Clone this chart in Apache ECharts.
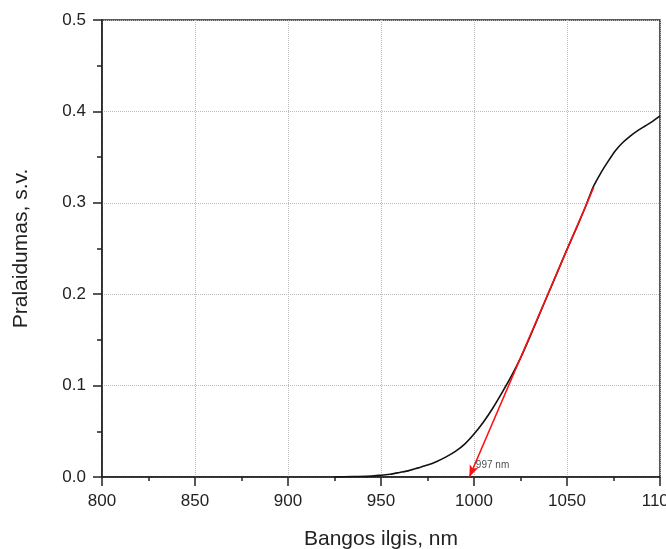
<!DOCTYPE html>
<html>
<head>
<meta charset="utf-8">
<script src="https://cdn.jsdelivr.net/npm/echarts@6/dist/echarts.min.js"></script>
<style>html,body{margin:0;padding:0;background:#fff}#c{width:666px;height:549px}</style>
</head>
<body>
<div id="c"></div>
<script>
const wavelength = [925, 935, 945, 950, 955, 960, 965, 970, 975, 980, 985, 990, 995, 1000, 1005, 1010, 1015, 1020, 1025, 1030, 1035, 1040, 1045, 1050, 1055, 1060, 1064, 1068, 1072, 1076, 1080, 1084, 1088, 1092, 1096, 1100];
const transmission = [0, 0.0005, 0.001, 0.002, 0.003, 0.005, 0.007, 0.010, 0.013, 0.017, 0.022, 0.028, 0.036, 0.047, 0.060, 0.075, 0.092, 0.110, 0.130, 0.153, 0.177, 0.201, 0.225, 0.249, 0.272, 0.296, 0.317, 0.332, 0.345, 0.357, 0.366, 0.373, 0.379, 0.384, 0.389, 0.395];
const tangentStart = [1064.4, 0.317];
const tangentEnd = [997.5, 0];
const edgeLabel = '997 nm';
const edgeLabelAt = [1001, 0.0128];
const xName = 'Bangos ilgis, nm';
const yName = 'Pralaidumas, s.v.';

const font = 'Liberation Sans, Arial, sans-serif';
const chart = echarts.init(document.getElementById('c'), null, {renderer: 'canvas'});
chart.setOption({
  animation: false,
  grid: {left: 102, right: 6, top: 20, bottom: 72, outerBoundsMode: 'none', containLabel: false, show: true, borderColor: '#222', borderWidth: 1.5, backgroundColor: 'transparent'},
  xAxis: {
    type: 'value', min: 800, max: 1100, interval: 50,
    name: xName, nameLocation: 'middle', nameGap: 52,
    nameTextStyle: {fontFamily: font, fontSize: 21, color: '#222'},
    axisLine: {show: true, onZero: false, lineStyle: {color: '#222', width: 1.5}},
    axisTick: {show: true, length: 9, lineStyle: {color: '#222', width: 1.5}},
    minorTick: {show: true, splitNumber: 2, length: 4, lineStyle: {color: '#222', width: 1.5}},
    axisLabel: {fontFamily: font, fontSize: 17, color: '#222', margin: 16, showMaxLabel: true, showMinLabel: true, hideOverlap: false, formatter: v => String(v)},
    splitLine: {show: true, lineStyle: {color: '#bbb', type: 'dotted', width: 1}}
  },
  yAxis: {
    type: 'value', min: 0, max: 0.5, interval: 0.1,
    name: yName, nameLocation: 'middle', nameGap: 70,
    nameTextStyle: {fontFamily: font, fontSize: 21, color: '#222'},
    axisLine: {show: true, onZero: false, lineStyle: {color: '#222', width: 1.5}},
    axisTick: {show: true, length: 9, lineStyle: {color: '#222', width: 1.5}},
    minorTick: {show: true, splitNumber: 2, length: 5, lineStyle: {color: '#222', width: 1.5}},
    axisLabel: {fontFamily: font, fontSize: 17, color: '#222', margin: 16, formatter: v => v.toFixed(1)},
    splitLine: {show: true, lineStyle: {color: '#bbb', type: 'dotted', width: 1}}
  },
  series: [
    {
      type: 'line', data: wavelength.map((x, i) => [x, transmission[i]]),
      showSymbol: false, symbol: 'none', smooth: 0.2,
      lineStyle: {color: '#111', width: 1.6}, z: 3,
      markLine: {
        silent: true, animation: false,
        symbol: ['none', 'arrow'], symbolSize: [7, 12],
        label: {show: false},
        lineStyle: {color: '#ff1010', width: 1.6, type: 'solid'},
        data: [[{coord: tangentStart}, {coord: tangentEnd}]]
      }
    },
    {
      type: 'scatter', data: [edgeLabelAt], symbolSize: 0, z: 5,
      label: {show: true, position: 'right', distance: 0, formatter: edgeLabel, fontFamily: font, fontSize: 10, color: '#222'}
    }
  ]
});
</script>
</body>
</html>
